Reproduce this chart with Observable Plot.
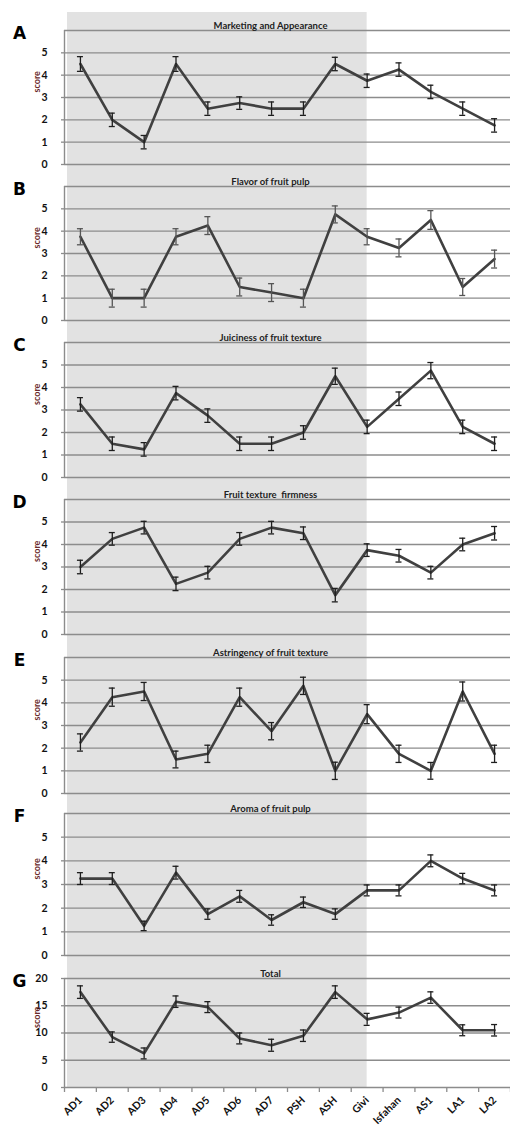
<!DOCTYPE html>
<html>
<head>
<meta charset="utf-8">
<script src="https://cdn.jsdelivr.net/npm/d3@7"></script>
<script src="https://cdn.jsdelivr.net/npm/@observablehq/plot@0.6"></script>
<style>
  body { margin: 0; background: #fff; }
  #chart { width: 510px; }
  #chart svg { display: block; overflow: visible; }
</style>
</head>
<body>
<div id="chart"></div>
<script>
// ---- data ----
const categories = ["AD1","AD2","AD3","AD4","AD5","AD6","AD7","PSH","ASH","Givi","Isfahan","AS1","LA1","LA2"];
const shadedUntil = "Givi";

const marketing    = [4.5, 2.0, 1.0, 4.5, 2.5, 2.75, 2.5, 2.5, 4.5, 3.75, 4.25, 3.25, 2.5, 1.75];
const marketingErr = [0.33, 0.3, 0.3, 0.33, 0.3, 0.28, 0.3, 0.3, 0.3, 0.3, 0.3, 0.3, 0.3, 0.3];

const flavor    = [3.75, 1.0, 1.0, 3.75, 4.25, 1.5, 1.25, 1.0, 4.75, 3.75, 3.25, 4.5, 1.5, 2.75];
const flavorErr = [0.36, 0.4, 0.4, 0.36, 0.4, 0.4, 0.4, 0.4, 0.38, 0.36, 0.4, 0.42, 0.38, 0.4];

const juiciness    = [3.25, 1.5, 1.25, 3.75, 2.75, 1.5, 1.5, 2.0, 4.5, 2.25, 3.5, 4.75, 2.25, 1.5];
const juicinessErr = [0.3, 0.3, 0.3, 0.3, 0.3, 0.3, 0.3, 0.3, 0.36, 0.3, 0.3, 0.36, 0.3, 0.3];

const firmness    = [3.0, 4.25, 4.75, 2.25, 2.75, 4.25, 4.75, 4.5, 1.75, 3.75, 3.5, 2.75, 4.0, 4.5];
const firmnessErr = [0.3, 0.28, 0.28, 0.3, 0.28, 0.28, 0.28, 0.28, 0.3, 0.28, 0.28, 0.28, 0.28, 0.3];

const astringency    = [2.25, 4.25, 4.5, 1.5, 1.75, 4.25, 2.75, 4.75, 1.0, 3.5, 1.75, 1.0, 4.5, 1.75];
const astringencyErr = [0.38, 0.4, 0.4, 0.37, 0.38, 0.4, 0.38, 0.38, 0.38, 0.42, 0.38, 0.37, 0.42, 0.38];

const aroma    = [3.25, 3.25, 1.25, 3.5, 1.75, 2.5, 1.5, 2.25, 1.75, 2.75, 2.75, 4.0, 3.25, 2.75];
const aromaErr = [0.25, 0.25, 0.2, 0.27, 0.22, 0.25, 0.22, 0.22, 0.22, 0.23, 0.23, 0.25, 0.22, 0.23];

const total    = [17.5, 9.25, 6.25, 15.75, 14.75, 9.0, 7.75, 9.5, 17.5, 12.5, 13.75, 16.5, 10.5, 10.5];
const totalErr = [1.15, 0.95, 1.0, 1.05, 1.0, 1.0, 1.1, 1.05, 1.15, 1.1, 1.0, 1.05, 1.0, 1.05];

const scoreTicks = [0, 1, 2, 3, 4, 5];
const scoreGrid  = [0, 1, 2, 3, 4, 5, 6];
const totalTicks = [0, 5, 10, 15, 20];

// ---- panels ----
const panels = [
  {letter: "A", title: "Marketing and Appearance", values: marketing, errors: marketingErr, top: 6, ticks: scoreTicks, grid: scoreGrid,
   height: 172, mt: 30, mb: 8, grayTop: 18, grayBottom: 8, errColor: "#1e1e1e"},
  {letter: "B", title: "Flavor of fruit pulp", values: flavor, errors: flavorErr, top: 6, ticks: scoreTicks, grid: scoreGrid,
   height: 156, mt: 14, mb: 8, grayTop: 14, grayBottom: 8, errColor: "#555"},
  {letter: "C", title: "Juiciness of fruit texture", values: juiciness, errors: juicinessErr, top: 6, ticks: scoreTicks, grid: scoreGrid,
   height: 157, mt: 14, mb: 8, grayTop: 14, grayBottom: 8, errColor: "#1e1e1e"},
  {letter: "D", title: "Fruit texture  firmness", values: firmness, errors: firmnessErr, top: 6, ticks: scoreTicks, grid: scoreGrid,
   height: 158, mt: 14, mb: 9, grayTop: 14, grayBottom: 9, errColor: "#1e1e1e"},
  {letter: "E", title: "Astringency of fruit texture", values: astringency, errors: astringencyErr, top: 6, ticks: scoreTicks, grid: scoreGrid,
   height: 157, mt: 14, mb: 7, grayTop: 14, grayBottom: 7, errColor: "#1e1e1e"},
  {letter: "F", title: "Aroma of fruit pulp", values: aroma, errors: aromaErr, top: 6, ticks: scoreTicks, grid: scoreGrid,
   height: 163, mt: 13, mb: 8, grayTop: 13, grayBottom: 8, errColor: "#1e1e1e"},
  {letter: "G", title: "Total", values: total, errors: totalErr, top: 20, ticks: totalTicks, grid: totalTicks,
   height: 163, mt: 15, mb: 39, grayTop: 15, grayBottom: 0, errColor: "#1e1e1e", xAxis: true}
];

const gridColor = "#8c8c8c";
const font = "Lato, 'Open Sans', sans-serif";
const shadeEnd = categories.indexOf(shadedUntil);
const boundaries = d3.range(-0.5, categories.length, 1);

const chart = document.getElementById("chart");

for (const p of panels) {
  const data = categories.map((c, k) => ({k, cat: c, v: p.values[k], e: p.errors[k]}));
  const marks = [
    Plot.rect([{a: -0.5, b: shadeEnd, lo: 0, hi: p.top}], {
      x1: "a", x2: "b", y1: "lo", y2: "hi", fill: "#e2e2e2",
      insetLeft: 3, insetTop: -p.grayTop, insetBottom: -p.grayBottom
    }),
    Plot.gridY(p.grid, {stroke: gridColor, strokeOpacity: 1, strokeWidth: 1.3}),
    Plot.ruleX([-0.5], {y1: 0, y2: p.top, stroke: gridColor, strokeWidth: 1.4}),
    Plot.axisY(p.ticks, {
      tickSize: 3, tickPadding: 14, stroke: gridColor, strokeWidth: 1.3,
      fontWeight: "bold", fontSize: 10.5, fill: "#111", label: null
    }),
    Plot.line(data, {x: "k", y: "v", stroke: "#404040", strokeWidth: 2.6}),
    Plot.ruleX(data, {x: "k", y1: d => d.v - d.e, y2: d => d.v + d.e, stroke: p.errColor, strokeWidth: 1.3}),
    Plot.ruleY(data, {y: d => d.v - d.e, x1: "k", x2: "k", insetLeft: -3, insetRight: -3, stroke: p.errColor, strokeWidth: 1.3}),
    Plot.ruleY(data, {y: d => d.v + d.e, x1: "k", x2: "k", insetLeft: -3, insetRight: -3, stroke: p.errColor, strokeWidth: 1.3}),
    Plot.text([p.title], {
      text: d => d, frameAnchor: "top", dx: -17, dy: -2, lineAnchor: "bottom",
      fontWeight: "bold", fontSize: 9.5, fill: "#222"
    }),
    Plot.text([p.letter], {
      text: d => d, frameAnchor: "top-left", dx: -45, dy: 3, textAnchor: "middle", lineAnchor: "middle",
      fontSize: 17, fontWeight: 900, fontFamily: "'DejaVu Sans', sans-serif", fill: "#000"
    }),
    Plot.text(["score"], {
      text: d => d, frameAnchor: "left", rotate: -90, dx: -27, dy: -5,
      fontSize: 9, fontWeight: "bold", fill: "#6b2b2b"
    })
  ];
  if (p.xAxis) {
    marks.push(
      Plot.axisX(boundaries, {tickSize: 5, tickFormat: () => "", stroke: gridColor, strokeWidth: 1.3, label: null}),
      Plot.axisX(d3.range(categories.length), {
        tickSize: 0, tickPadding: 11, tickRotate: -45, tickFormat: k => categories[k],
        fontWeight: "bold", fontSize: 10.5, fill: "#111", label: null
      })
    );
  }
  const svg = Plot.plot({
    width: 510,
    height: p.height,
    marginLeft: 64,
    marginRight: 0,
    marginTop: p.mt,
    marginBottom: p.mb,
    style: {fontFamily: font, background: "transparent", overflow: "visible"},
    x: {type: "linear", domain: [-0.5, categories.length - 0.5], axis: null},
    y: {domain: [0, p.top], axis: null},
    marks
  });
  chart.appendChild(svg);
}
</script>
</body>
</html>
